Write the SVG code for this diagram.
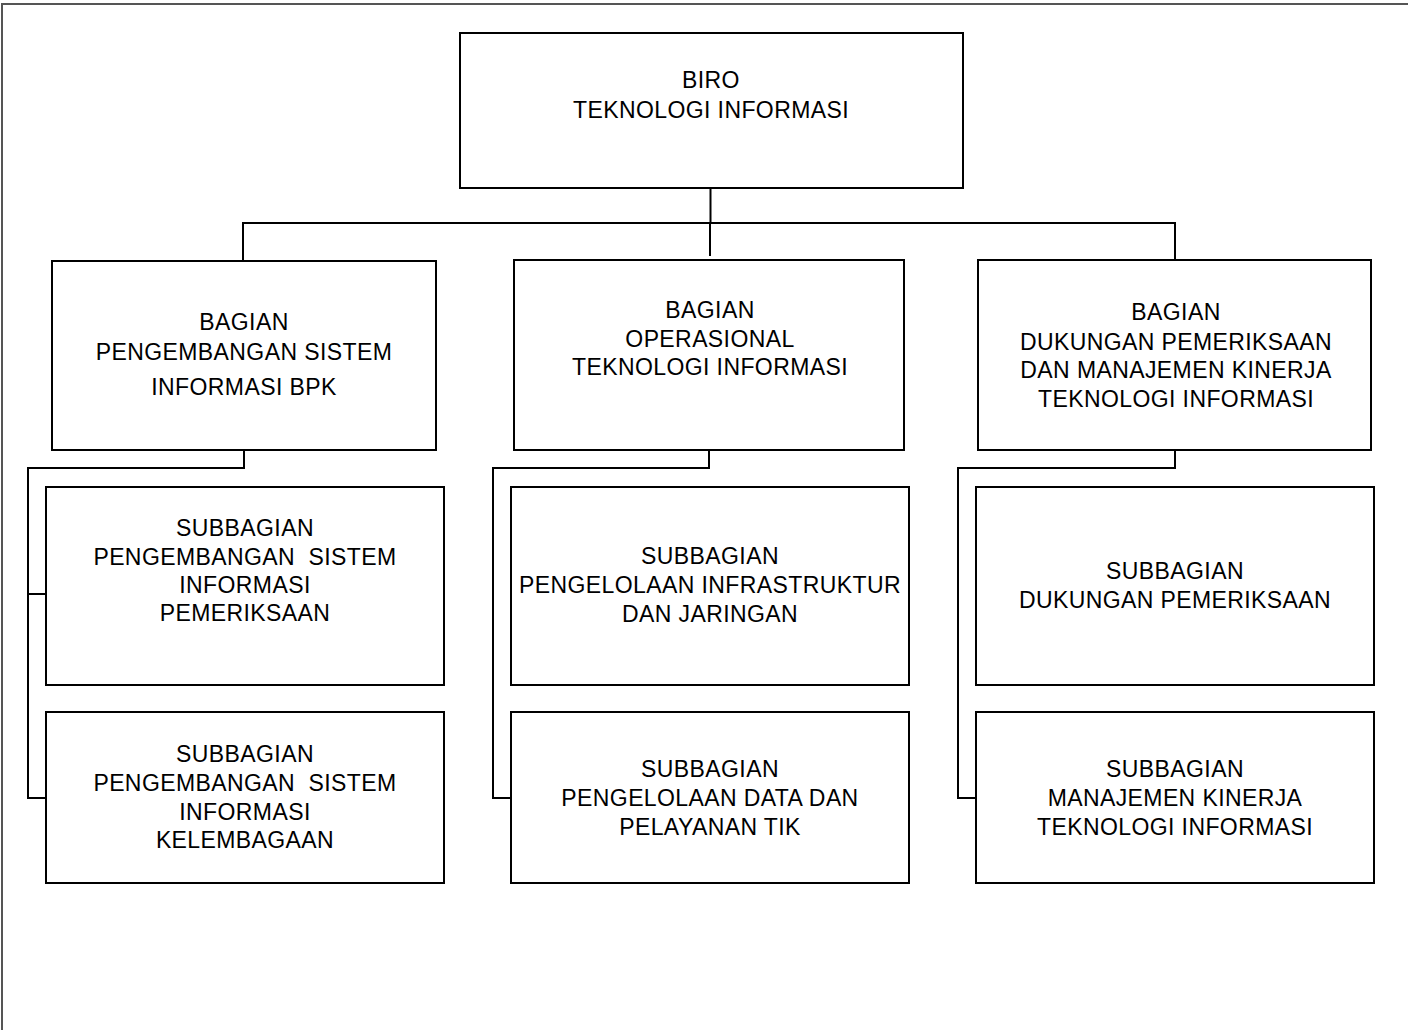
<svg xmlns="http://www.w3.org/2000/svg" width="1408" height="1030" viewBox="0 0 1408 1030">
<style>
.box{fill:#fff;stroke:#000;stroke-width:2}
.ln{fill:none;stroke:#000;stroke-width:2}
text{font-family:"Liberation Sans",Arial,sans-serif;font-size:23px;letter-spacing:0.4px;fill:#000;text-anchor:middle}
.pre{white-space:pre}
</style>
<rect x="0" y="0" width="1408" height="1030" fill="#fff"/>
<path d="M2,1030 V4 H1408" fill="none" stroke="#555" stroke-width="2"/>
<g id="connectors">
<path class="ln" d="M710.5,188 V223" stroke-width="3"/>
<path class="ln" d="M710,223 V256"/>
<path class="ln" d="M243,260 V223 H1175 V260"/>
<path class="ln" d="M244,450 V468 H28 V798 H46"/>
<path class="ln" d="M28,594 H46"/>
<path class="ln" d="M709,450 V468 H493 V798 H511"/>
<path class="ln" d="M1175,450 V468 H958 V798 H976"/>
</g>
<g id="biro">
<rect class="box" x="460" y="33" width="503" height="155"/>
<text x="711" y="88">BIRO</text>
<text x="711" y="118">TEKNOLOGI INFORMASI</text>
</g>
<g id="bagian-psi">
<rect class="box" x="52" y="261" width="384" height="189"/>
<text x="244" y="330">BAGIAN</text>
<text x="244" y="360">PENGEMBANGAN SISTEM</text>
<text x="244" y="395">INFORMASI BPK</text>
</g>
<g id="bagian-oti">
<rect class="box" x="514" y="260" width="390" height="190"/>
<text x="710" y="318">BAGIAN</text>
<text x="710" y="347">OPERASIONAL</text>
<text x="710" y="375">TEKNOLOGI INFORMASI</text>
</g>
<g id="bagian-dpmk">
<rect class="box" x="978" y="260" width="393" height="190"/>
<text x="1176" y="320">BAGIAN</text>
<text x="1176" y="350">DUKUNGAN PEMERIKSAAN</text>
<text x="1176" y="378">DAN MANAJEMEN KINERJA</text>
<text x="1176" y="407">TEKNOLOGI INFORMASI</text>
</g>
<g id="sub-psi-pemeriksaan">
<rect class="box" x="46" y="487" width="398" height="198"/>
<text x="245" y="536">SUBBAGIAN</text>
<text class="pre" x="245" y="565">PENGEMBANGAN  SISTEM</text>
<text x="245" y="593">INFORMASI</text>
<text x="245" y="621">PEMERIKSAAN</text>
</g>
<g id="sub-psi-kelembagaan">
<rect class="box" x="46" y="712" width="398" height="171"/>
<text x="245" y="762">SUBBAGIAN</text>
<text class="pre" x="245" y="791">PENGEMBANGAN  SISTEM</text>
<text x="245" y="820">INFORMASI</text>
<text x="245" y="848">KELEMBAGAAN</text>
</g>
<g id="sub-infra">
<rect class="box" x="511" y="487" width="398" height="198"/>
<text x="710" y="564">SUBBAGIAN</text>
<text x="710" y="593">PENGELOLAAN INFRASTRUKTUR</text>
<text x="710" y="622">DAN JARINGAN</text>
</g>
<g id="sub-data">
<rect class="box" x="511" y="712" width="398" height="171"/>
<text x="710" y="777">SUBBAGIAN</text>
<text x="710" y="806">PENGELOLAAN DATA DAN</text>
<text x="710" y="835">PELAYANAN TIK</text>
</g>
<g id="sub-dukungan">
<rect class="box" x="976" y="487" width="398" height="198"/>
<text x="1175" y="579">SUBBAGIAN</text>
<text x="1175" y="608">DUKUNGAN PEMERIKSAAN</text>
</g>
<g id="sub-kinerja">
<rect class="box" x="976" y="712" width="398" height="171"/>
<text x="1175" y="777">SUBBAGIAN</text>
<text x="1175" y="806">MANAJEMEN KINERJA</text>
<text x="1175" y="835">TEKNOLOGI INFORMASI</text>
</g>
</svg>
